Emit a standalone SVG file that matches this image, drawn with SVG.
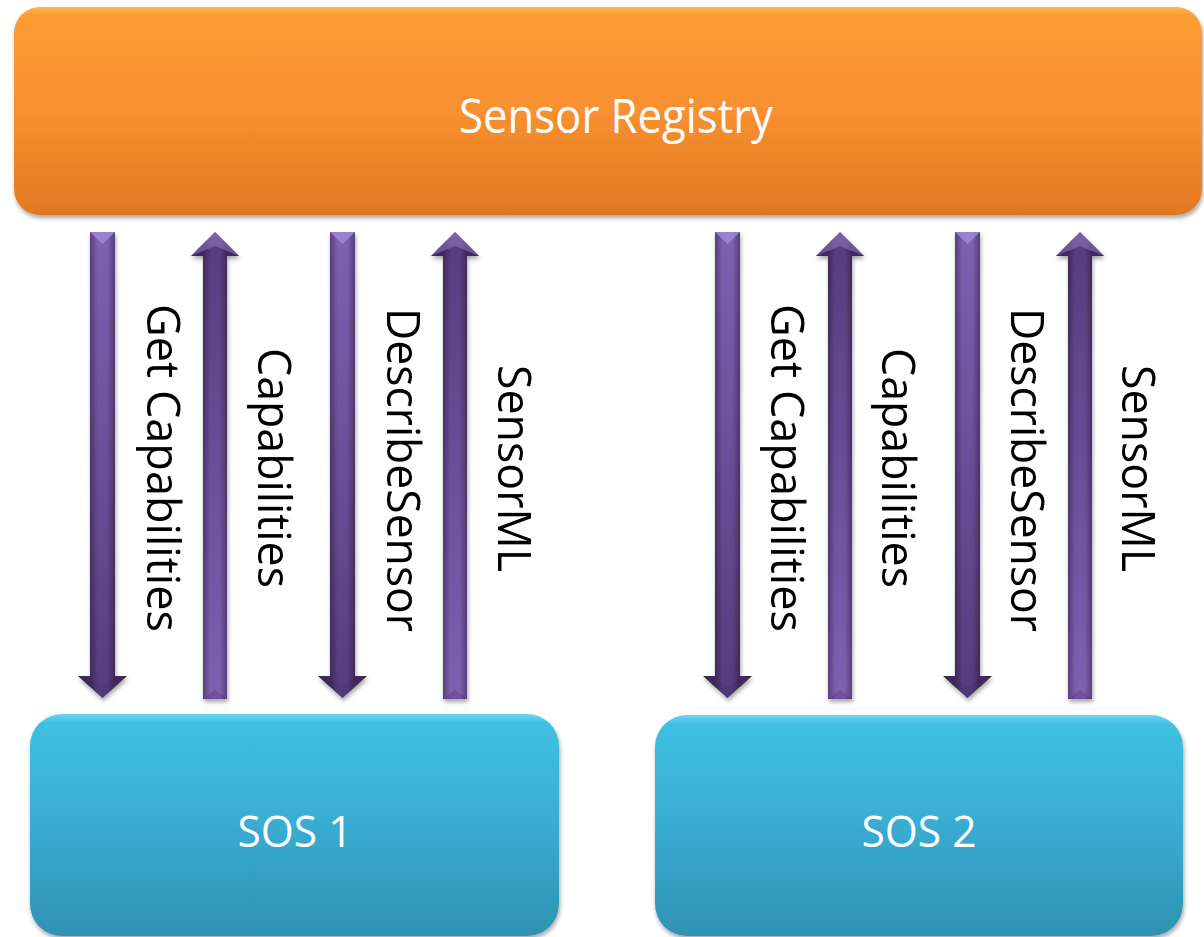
<svg xmlns="http://www.w3.org/2000/svg" xmlns:xlink="http://www.w3.org/1999/xlink" width="1204" height="937" viewBox="0 0 1204 937">
  <style>
    .boxlabel { font-family: "Open Sans", "Liberation Sans", sans-serif; fill: #ffffff; text-anchor: middle; }
    .arrowlabel { font-family: "Open Sans", "Liberation Sans", sans-serif; font-size: 45px; fill: #000000; }
  </style>
  <defs>
    <linearGradient id="gOrange" x1="0" y1="0" x2="0" y2="1">
      <stop offset="0" stop-color="#ffb347"/>
      <stop offset="0.04" stop-color="#fd9c34"/>
      <stop offset="0.5" stop-color="#f99030"/>
      <stop offset="1" stop-color="#df7822"/>
    </linearGradient>
    <linearGradient id="gBlue" x1="0" y1="0" x2="0" y2="1">
      <stop offset="0" stop-color="#6cd6f2"/>
      <stop offset="0.04" stop-color="#3fc0e3"/>
      <stop offset="0.5" stop-color="#39acd2"/>
      <stop offset="1" stop-color="#2f92b3"/>
    </linearGradient>
    <linearGradient id="gDown" x1="0" y1="0" x2="0" y2="1">
      <stop offset="0" stop-color="#8060b0"/>
      <stop offset="1" stop-color="#573b80"/>
    </linearGradient>
    <linearGradient id="gUp" x1="0" y1="1" x2="0" y2="0">
      <stop offset="0" stop-color="#8060b0"/>
      <stop offset="1" stop-color="#573b80"/>
    </linearGradient>
    <linearGradient id="gEdge" x1="0" y1="0" x2="1" y2="0">
      <stop offset="0" stop-color="#000" stop-opacity="0.35"/>
      <stop offset="0.26" stop-color="#000" stop-opacity="0.3"/>
      <stop offset="0.4" stop-color="#000" stop-opacity="0"/>
      <stop offset="0.6" stop-color="#000" stop-opacity="0"/>
      <stop offset="0.74" stop-color="#000" stop-opacity="0.3"/>
      <stop offset="1" stop-color="#000" stop-opacity="0.35"/>
    </linearGradient>
    <filter id="shadow" x="-5%" y="-5%" width="110%" height="115%">
      <feDropShadow dx="1" dy="3" stdDeviation="2" flood-color="#000" flood-opacity="0.35"/>
    </filter>
    <g id="downArrow">
      <path d="M-12.5,232 H12.5 V676 H24.5 L0,698 L-24.5,676 H-12.5 Z" fill="url(#gDown)"/>
      <path d="M-12.5,232 H12.5 V676 H24.5 L0,698 L-24.5,676 H-12.5 Z" fill="url(#gEdge)"/>
      <path d="M-12.5,232 H12.5 L0,244 Z" fill="#a58ad6" opacity="0.8"/>
      <path d="M-24.5,676 L0,686 L24.5,676 L0,698 Z" fill="#3f2a60" opacity="0.25"/>
    </g>
    <g id="upArrow">
      <path d="M0,232 L24,256 H12 V699 H-12 V256 H-24 Z" fill="url(#gUp)"/>
      <path d="M0,232 L24,256 H12 V699 H-12 V256 H-24 Z" fill="url(#gEdge)"/>
      <path d="M0,232 L24,256 L0,246 L-24,256 Z" fill="#a58ad6" opacity="0.45"/>
      <path d="M-12,699 H12 L0,690 Z" fill="#3f2a60" opacity="0.25"/>
    </g>
  </defs>

  <rect x="0" y="0" width="1204" height="937" fill="#ffffff"/>

  <g id="sensor-registry">
    <rect x="14" y="7" width="1188" height="208" rx="26" ry="26" fill="url(#gOrange)" filter="url(#shadow)"/>
    <text class="boxlabel" x="616" y="133" font-size="47" textLength="314" lengthAdjust="spacingAndGlyphs">Sensor Registry</text>
  </g>

  <g id="sos1">
    <rect x="30" y="714" width="529" height="222" rx="32" ry="32" fill="url(#gBlue)" filter="url(#shadow)"/>
    <text class="boxlabel" x="295" y="847" font-size="44" textLength="115" lengthAdjust="spacingAndGlyphs">SOS 1</text>
  </g>

  <g id="sos2">
    <rect x="655" y="715" width="528" height="221" rx="32" ry="32" fill="url(#gBlue)" filter="url(#shadow)"/>
    <text class="boxlabel" x="919" y="847" font-size="44" textLength="115" lengthAdjust="spacingAndGlyphs">SOS 2</text>
  </g>

  <g id="connectors" filter="url(#shadow)">
    <use xlink:href="#downArrow" href="#downArrow" transform="translate(102.5,0)"/>
    <use xlink:href="#upArrow" href="#upArrow" transform="translate(215,0)"/>
    <use xlink:href="#downArrow" href="#downArrow" transform="translate(342.5,0)"/>
    <use xlink:href="#upArrow" href="#upArrow" transform="translate(455,0)"/>
    <use xlink:href="#downArrow" href="#downArrow" transform="translate(727.5,0)"/>
    <use xlink:href="#upArrow" href="#upArrow" transform="translate(840,0)"/>
    <use xlink:href="#downArrow" href="#downArrow" transform="translate(967.5,0)"/>
    <use xlink:href="#upArrow" href="#upArrow" transform="translate(1080,0)"/>
  </g>

  <g id="labels">
    <text class="arrowlabel" x="147" y="304" transform="rotate(90 147 304)" textLength="328" lengthAdjust="spacingAndGlyphs">Get Capabilities</text>
    <text class="arrowlabel" x="258" y="348" transform="rotate(90 258 348)" textLength="240" lengthAdjust="spacingAndGlyphs">Capabilities</text>
    <text class="arrowlabel" x="387" y="308" transform="rotate(90 387 308)" textLength="324" lengthAdjust="spacingAndGlyphs">DescribeSensor</text>
    <text class="arrowlabel" x="498" y="365" transform="rotate(90 498 365)" textLength="207" lengthAdjust="spacingAndGlyphs">SensorML</text>
    <text class="arrowlabel" x="771" y="304" transform="rotate(90 771 304)" textLength="328" lengthAdjust="spacingAndGlyphs">Get Capabilities</text>
    <text class="arrowlabel" x="882" y="348" transform="rotate(90 882 348)" textLength="240" lengthAdjust="spacingAndGlyphs">Capabilities</text>
    <text class="arrowlabel" x="1011" y="308" transform="rotate(90 1011 308)" textLength="324" lengthAdjust="spacingAndGlyphs">DescribeSensor</text>
    <text class="arrowlabel" x="1122" y="365" transform="rotate(90 1122 365)" textLength="207" lengthAdjust="spacingAndGlyphs">SensorML</text>
  </g>
</svg>
